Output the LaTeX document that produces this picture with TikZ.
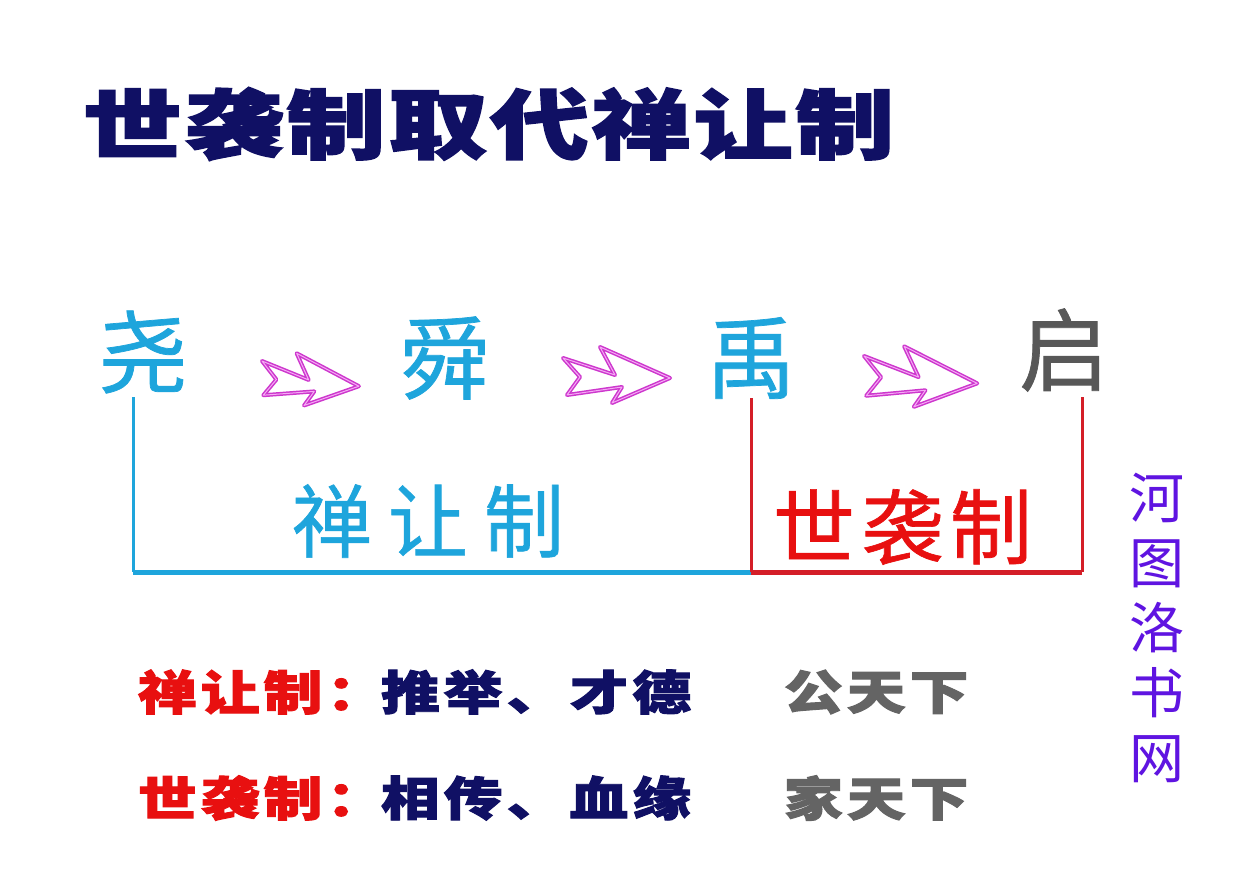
\documentclass[tikz,border=0pt]{standalone}
\usepackage{fontspec}
\newfontfamily\cjk{Noto Sans CJK SC}[BoldFeatures={FakeBold=2}]
\newfontfamily\cjkpl{Noto Sans CJK SC}
\newfontfamily\cjkmed{Noto Sans CJK SC}[FakeBold=0.8]
\definecolor{navy}{RGB}{16,16,100}
\definecolor{cyanc}{RGB}{30,165,220}
\definecolor{grayc}{RGB}{88,88,88}
\definecolor{grayb}{RGB}{100,100,100}
\definecolor{redt}{RGB}{232,16,16}
\definecolor{redl}{RGB}{212,30,40}
\definecolor{magc}{RGB}{205,55,205}
\definecolor{pinkc}{RGB}{245,170,245}
\definecolor{purp}{RGB}{95,20,225}
\begin{document}
\begin{tikzpicture}[x=1pt,y=-1pt,
  every node/.style={inner sep=0pt, outer sep=0pt},
  title/.style={anchor=west, xscale=1.3, text=navy, font=\cjk\bfseries\fontsize{76}{80}\selectfont\addfontfeature{LetterSpace=3}},
  king/.style={text=cyanc, font=\cjkmed\fontsize{90}{94}\selectfont},
  shanlabel/.style={anchor=west, text=cyanc, font=\cjkmed\fontsize{80}{84}\selectfont\addfontfeature{LetterSpace=20}},
  shixilabel/.style={anchor=west, text=redt, font=\cjkmed\fontsize{82}{86}\selectfont\addfontfeature{LetterSpace=8}},
  rowtext/.style={anchor=west, xscale=1.25, font=\cjk\bfseries\fontsize{47}{50}\selectfont\addfontfeature{LetterSpace=7}},
  fatarrow/.style={draw=magc, line width=4pt, fill=white, line join=round},
  fatinner/.style={draw=pinkc, line width=1pt, line join=round},
  bline/.style={line width=3pt},
  hline/.style={line width=5pt}
]
\useasboundingbox (0,0) rectangle (1236,872);
\fill[white] (0,0) rectangle (1236,872);

% title
\node[title] (title) at (83,124) {世袭制取代禅让制};

% kings
\node[king] (yao) at (143,352) {尧};
\node[king] (shun) at (445,358) {舜};
\node[king] (yu) at (751,358) {禹};
\node[king, text=grayc] (qi) at (1064,350) {启};

% arrows
\foreach \ox/\oy/\s/\r in {262/361/0.92/-4, 563/358/1.0/0, 864/356/1.07/-3}{
  \begin{scope}[shift={(\ox,\oy)}, scale=\s, rotate=\r]
    \draw[fatarrow] (0,0) -- (52,17) -- (37,-11) -- (107,20) -- (49,45) -- (59,29) -- (4,37) -- (17,19) -- cycle;
    \draw[fatinner] (0,0) -- (52,17) -- (37,-11) -- (107,20) -- (49,45) -- (59,29) -- (4,37) -- (17,19) -- cycle;
  \end{scope}
}

% brackets
\coordinate (a1) at (133,397);
\coordinate (a2) at (133,572);
\coordinate (b1) at (751,398);
\coordinate (b2) at (751,572);
\coordinate (c1) at (1082,397);
\coordinate (c2) at (1082,572);
\draw[bline, cyanc] (a1) -- (a2);
\draw[hline, cyanc] (a2) -- (b2);
\draw[bline, redl] (b1) -- (b2);
\draw[bline, redl] (c1) -- (c2);
\draw[hline, redl] (b2) -- (c2);

% labels over brackets
\node[shanlabel] (shan) at (292,521) {禅让制};
\node[shixilabel] (shixi) at (773,527) {世袭制};

% bottom rows
\node[rowtext, text=redt] (r1a) at (138,692) {禅让制：};
\node[rowtext, text=navy] (r1b) at (381,692) {推举、才德};
\node[rowtext, text=grayb] (r1c) at (784,692) {公天下};
\node[rowtext, text=redt] (r2a) at (138,798) {世袭制：};
\node[rowtext, text=navy] (r2b) at (381,798) {相传、血缘};
\node[rowtext, text=grayb] (r2c) at (784,798) {家天下};

% watermark
\node[text=purp, font=\cjkpl\fontsize{55}{65}\selectfont, align=center] (wm) at (1157,628) {河\\图\\洛\\书\\网};
\end{tikzpicture}
\end{document}
